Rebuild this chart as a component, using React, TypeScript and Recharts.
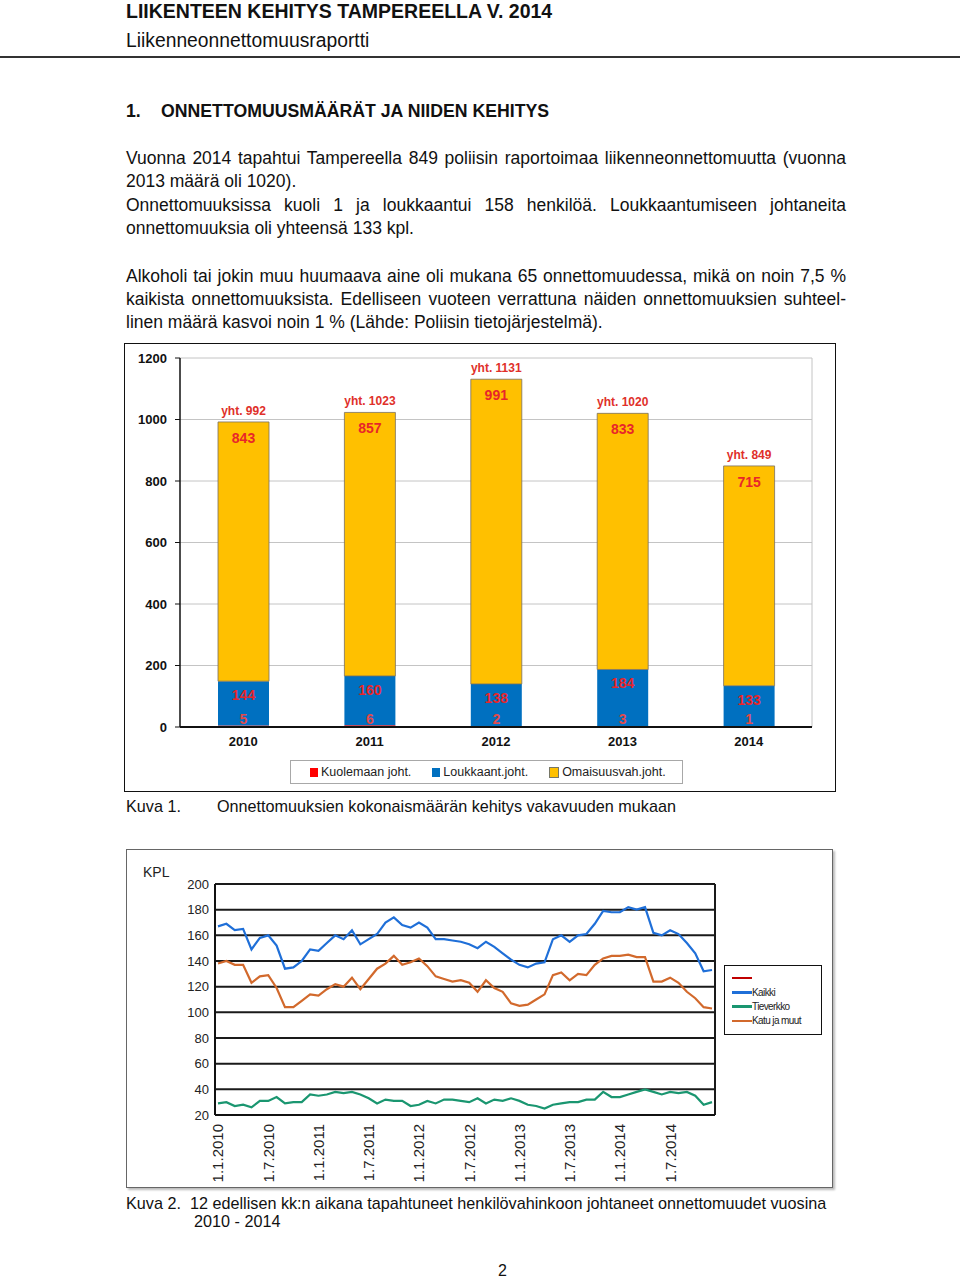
import React from 'react';
import { BarChart, Bar, XAxis, YAxis, CartesianGrid, LabelList, LineChart, Line } from 'recharts';

// ---------- Chart 1 data ----------
const years = ['2010', '2011', '2012', '2013', '2014'];
const deaths = [5, 6, 2, 3, 1];
const injuries = [144, 160, 138, 184, 133];
const property = [843, 857, 991, 833, 715];
const totals = [992, 1023, 1131, 1020, 849];
const barTicks = [0, 200, 400, 600, 800, 1000, 1200];
const barSeriesNames = ['Kuolemaan joht.', 'Loukkaant.joht.', 'Omaisuusvah.joht.'];

// ---------- Chart 2 data ----------
const lineYears = [2010, 2011, 2012, 2013, 2014];
const kaikki = [167, 169, 164, 165, 149, 158, 160, 152, 134, 135, 140, 149, 148, 154, 160, 157, 164, 153, 157, 161, 170, 174, 168, 166, 170, 166, 157, 157, 156, 155, 153, 150, 155, 151, 146, 141, 137, 135, 138, 139, 157, 160, 155, 160, 161, 169, 179, 178, 178, 182, 180, 182, 162, 160, 164, 161, 154, 146, 132, 133];
const katu = [138, 140, 137, 137, 123, 128, 129, 119, 104, 104, 109, 114, 113, 118, 122, 120, 127, 118, 126, 134, 138, 144, 137, 139, 142, 136, 128, 126, 124, 125, 123, 116, 125, 119, 116, 107, 105, 106, 110, 114, 129, 131, 125, 130, 129, 137, 142, 144, 144, 145, 143, 143, 124, 124, 127, 123, 116, 111, 104, 103];
const tieverkko = [29, 30, 27, 28, 26, 31, 31, 34, 29, 30, 30, 36, 35, 36, 38, 37, 38, 36, 33, 29, 32, 31, 31, 27, 28, 31, 29, 32, 32, 31, 30, 33, 29, 32, 31, 33, 31, 28, 27, 25, 28, 29, 30, 30, 32, 32, 38, 34, 34, 36, 38, 40, 38, 36, 38, 37, 38, 35, 28, 30];
const lineTicks = [20, 40, 60, 80, 100, 120, 140, 160, 180, 200];
const lineSeriesNames = ['', 'Kaikki', 'Tieverkko', 'Katu ja muut'];

const barData = years.map((y, i) => ({ year: y, deaths: deaths[i], injuries: injuries[i], property: property[i], total: totals[i] }));
const months: string[] = [];
lineYears.forEach((y) => { for (let m = 1; m <= 12; m++) months.push(`1.${m}.${y}`); });
const lineData = months.map((m, i) => ({ month: m, kaikki: kaikki[i], tie: tieverkko[i], katu: katu[i] }));

const FONT = '"Liberation Sans", Arial, Helvetica, sans-serif';
const RED = '#FF0000';
const BLUE = '#0070C0';
const YELLOW = '#FFC000';
const LRED = '#C00000';
const LBLUE = '#1F6FD8';
const LGREEN = '#1A9670';
const LORANGE = '#D2692C';

function T({ x, b, size = 17.5, bold = false, w, justify = false, children }: any) {
  return (
    <div
      style={{
        position: 'absolute', left: x, top: b - 0.8465 * size, fontSize: size, lineHeight: `${size}px`,
        fontWeight: bold ? 'bold' : 'normal', whiteSpace: 'nowrap', width: w,
        textAlign: justify ? 'justify' : 'left', textAlignLast: justify ? 'justify' : 'auto',
        fontFamily: FONT, color: '#111',
      } as any}
    >
      {children}
    </div>
  );
}

const deathLabel = (p: any) => {
  const { x, y, width, height, value } = p;
  return (
    <text x={x + width / 2} y={y + height - 8} textAnchor="middle" dominantBaseline="central" fill="#E24A4A" fontSize={14} fontWeight="bold" fontFamily={FONT}>{value}</text>
  );
};
const injuryLabel = (p: any) => {
  const { x, y, width, value } = p;
  return (
    <text x={x + width / 2} y={y + 14} textAnchor="middle" dominantBaseline="central" fill="#E8262A" fontSize={14} fontWeight="bold" fontFamily={FONT}>{value}</text>
  );
};
const propertyLabel = (p: any) => {
  const { x, y, width, value, index } = p;
  return (
    <g>
      <text x={x + width / 2} y={y + 16} textAnchor="middle" dominantBaseline="central" fill="#E8262A" fontSize={14} fontWeight="bold" fontFamily={FONT}>{value}</text>
      <text x={x + width / 2} y={y - 11} textAnchor="middle" dominantBaseline="central" fill="#E0302A" fontSize={12} fontWeight="bold" fontFamily={FONT}>{`yht. ${totals[index]}`}</text>
    </g>
  );
};

const RotTick = (p: any) => {
  const { x, y, payload } = p;
  return (
    <g transform={`translate(${x},${y + 7})`}>
      <text transform="rotate(-90)" textAnchor="end" dy="0.36em" fontSize={15} fill="#222" fontFamily={FONT}>{payload.value}</text>
    </g>
  );
};

const rightEdge = (args: any) => {
  const o = args && args.offset;
  if (o) return [o.left + o.width];
  return [];
};

function BarSection() {
  return (
    <>
      <div style={{ position: 'absolute', left: 124, top: 343, width: 712, height: 449, border: '1.5px solid #111', boxSizing: 'border-box', background: '#fff' }} />
      <div style={{ position: 'absolute', left: 124, top: 343 }}>
        <BarChart width={712} height={449} data={barData} margin={{ top: 15, right: 24, bottom: 0, left: 0 }}>
          <CartesianGrid vertical={true} verticalCoordinatesGenerator={rightEdge} stroke="#c4c4c4" strokeWidth={1} />
          <XAxis dataKey="year" height={65} tickLine={false} tickSize={0} tickMargin={10} axisLine={{ stroke: '#111', strokeWidth: 2 }}
            tick={{ fontSize: 13, fontWeight: 'bold', fill: '#111', fontFamily: FONT }} />
          <YAxis width={56} domain={[0, 1200]} ticks={barTicks} interval={0} tickSize={5} tickMargin={8}
            axisLine={{ stroke: '#111', strokeWidth: 1.5 }} tickLine={{ stroke: '#111' }}
            tick={{ fontSize: 13, fontWeight: 'bold', fill: '#111', fontFamily: FONT }} />
          <Bar dataKey="deaths" stackId="a" fill={RED} barSize={51} isAnimationActive={false}>
            <LabelList dataKey="deaths" content={deathLabel} />
          </Bar>
          <Bar dataKey="injuries" stackId="a" fill={BLUE} barSize={51} isAnimationActive={false}>
            <LabelList dataKey="injuries" content={injuryLabel} />
          </Bar>
          <Bar dataKey="property" stackId="a" fill={YELLOW} stroke="#7a7060" strokeWidth={0.8} barSize={51} isAnimationActive={false}>
            <LabelList dataKey="property" content={propertyLabel} />
          </Bar>
        </BarChart>
      </div>
      <div style={{ position: 'absolute', left: 290, top: 760, width: 393, height: 24, border: '1px solid #a8a8a8', boxSizing: 'border-box', display: 'flex', alignItems: 'center', fontFamily: FONT, fontSize: 12.5, color: '#222', background: '#fff' }}>
        {barSeriesNames.map((n, i) => (
          <div key={n} style={{ display: 'flex', alignItems: 'center', marginLeft: i === 0 ? 19 : 21 }}>
            <span style={{ display: 'inline-block', width: 8, height: 9, background: [RED, BLUE, YELLOW][i], border: i === 2 ? '0.5px solid #776' : 'none', marginRight: 3 }} />
            <span>{n}</span>
          </div>
        ))}
      </div>
    </>
  );
}

function LineSection() {
  return (
    <>
      <div style={{ position: 'absolute', left: 126, top: 849, width: 707, height: 339, border: '1.5px solid #666', boxSizing: 'border-box', background: '#fff', boxShadow: '2px 2px 2px #bbb' }} />
      <div style={{ position: 'absolute', left: 143, top: 864, fontFamily: FONT, fontSize: 14, color: '#222' }}>KPL</div>
      <div style={{ position: 'absolute', left: 126, top: 849 }}>
        <LineChart width={707} height={339} data={lineData} margin={{ top: 35, right: 118, bottom: 0, left: 0 }}>
          <CartesianGrid vertical={true} verticalCoordinatesGenerator={rightEdge} stroke="#1a1a1a" strokeWidth={2} />
          <XAxis dataKey="month" height={73} interval={5} padding={{ left: 3, right: 3 }} tickLine={false} tickSize={0}
            axisLine={{ stroke: '#111', strokeWidth: 2 }} tick={<RotTick />} />
          <YAxis width={89} domain={[20, 200]} ticks={lineTicks} interval={0} tickLine={false} tickSize={0} tickMargin={6}
            axisLine={{ stroke: '#111', strokeWidth: 2 }} tick={{ fontSize: 13, fill: '#222', fontFamily: FONT }} />
          <Line dataKey="kaikki" stroke={LBLUE} strokeWidth={2.2} dot={false} isAnimationActive={false} />
          <Line dataKey="tie" stroke={LGREEN} strokeWidth={2.2} dot={false} isAnimationActive={false} />
          <Line dataKey="katu" stroke={LORANGE} strokeWidth={2.2} dot={false} isAnimationActive={false} />
        </LineChart>
      </div>
      <div style={{ position: 'absolute', left: 724, top: 965, width: 98, height: 70, border: '1.5px solid #111', boxSizing: 'border-box', background: '#fff', fontFamily: FONT, fontSize: 10, color: '#222' }}>
        {lineSeriesNames.map((n, i) => (
          <div key={i} style={{ position: 'absolute', left: 7, top: 6 + i * 14.3, height: 12, display: 'flex', alignItems: 'center' }}>
            <span style={{ display: 'inline-block', width: 20, height: 2.5, background: [LRED, LBLUE, LGREEN, LORANGE][i] }} />
            <span style={{ letterSpacing: -0.6 }}>{n}</span>
          </div>
        ))}
      </div>
    </>
  );
}

export default function App() {
  return (
    <div style={{ position: 'absolute', left: 0, top: 0, width: 960, height: 1279, background: '#fff', overflow: 'hidden' }}>
      <T x={126} b={18.5} size={19.5} bold>LIIKENTEEN KEHITYS TAMPEREELLA V. 2014</T>
      <T x={126} b={47} size={19.3}>Liikenneonnettomuusraportti</T>
      <div style={{ position: 'absolute', left: 0, top: 56, width: 960, height: 2, background: '#333' }} />
      <T x={126} b={118} size={17.7} bold>1.</T>
      <T x={161} b={118} size={17.7} bold>ONNETTOMUUSMÄÄRÄT JA NIIDEN KEHITYS</T>

      <T x={126} b={165} w={720} justify>Vuonna 2014 tapahtui Tampereella 849 poliisin raportoimaa liikenneonnettomuutta (vuonna</T>
      <T x={126} b={188}>2013 määrä oli 1020).</T>
      <T x={126} b={212} w={720} justify>Onnettomuuksissa kuoli 1 ja loukkaantui 158 henkilöä. Loukkaantumiseen johtaneita</T>
      <T x={126} b={235}>onnettomuuksia oli yhteensä 133 kpl.</T>
      <T x={126} b={283} w={720} justify>Alkoholi tai jokin muu huumaava aine oli mukana 65 onnettomuudessa, mikä on noin 7,5 %</T>
      <T x={126} b={306} w={720} justify>kaikista onnettomuuksista. Edelliseen vuoteen verrattuna näiden onnettomuuksien suhteel-</T>
      <T x={126} b={329}>linen määrä kasvoi noin 1 % (Lähde: Poliisin tietojärjestelmä).</T>

      <BarSection />
      <T x={126} b={812} size={16.2}>Kuva 1.</T>
      <T x={217} b={812} size={16.2}>Onnettomuuksien kokonaismäärän kehitys vakavuuden mukaan</T>

      <LineSection />
      <T x={126} b={1209} size={16.2}>Kuva 2.</T>
      <T x={190} b={1209} size={16.2}>12 edellisen kk:n aikana tapahtuneet henkilövahinkoon johtaneet onnettomuudet vuosina</T>
      <T x={194} b={1227} size={16.2}>2010 - 2014</T>
      <T x={498} b={1277} size={16}>2</T>
    </div>
  );
}
